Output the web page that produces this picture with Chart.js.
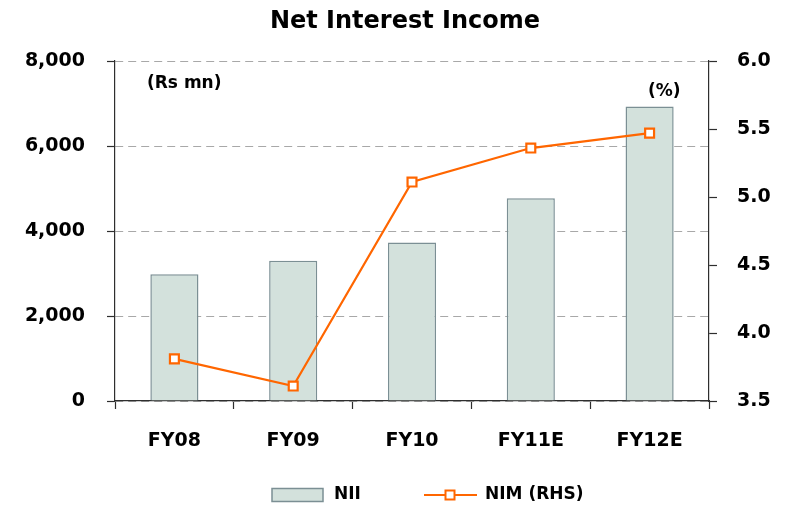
<!DOCTYPE html>
<html>
<head>
<meta charset="utf-8">
<script src="https://cdn.jsdelivr.net/npm/chart.js@4/dist/chart.umd.min.js"></script>
<style>
  html, body { margin: 0; padding: 0; background: #ffffff; }
  #wrap { width: 785px; height: 506px; position: relative; }
</style>
</head>
<body>
<div id="wrap"><canvas id="c" width="785" height="506"></canvas></div>
<script>
const categories = ["FY08", "FY09", "FY10", "FY11E", "FY12E"];
const niiValues = [2980, 3300, 3730, 4770, 6930];
const nimValues = [3.81, 3.61, 5.11, 5.36, 5.47];
const leftTicks = [0, 2000, 4000, 6000, 8000];
const rightTicks = [3.5, 4.0, 4.5, 5.0, 5.5, 6.0];
const titleText = "Net Interest Income";
const leftUnit = "(Rs mn)";
const rightUnit = "(%)";
const seriesNames = ["NII", "NIM (RHS)"];

const FONT = "'DejaVu Sans', sans-serif";
const barFill = "#d3e1dc";
const barEdge = "#7b8f94";
const lineColor = "#ff6600";
const axisColor = "#2e2e2e";
const gridColor = "#a8a8a8";

const decor = {
  id: "decor",
  afterDraw(chart) {
    const ctx = chart.ctx;
    ctx.save();
    ctx.fillStyle = "#000";
    ctx.textBaseline = "middle";
    // title
    ctx.font = "bold 24px " + FONT;
    ctx.textAlign = "center";
    ctx.fillText(titleText, 405, 22);
    // unit labels
    ctx.font = "bold 17px " + FONT;
    ctx.textAlign = "left";
    ctx.fillText(leftUnit, 147, 84);
    ctx.fillText(rightUnit, 648, 92);
    // legend
    const ly = 495;
    const ds0 = chart.data.datasets[0];
    const ds1 = chart.data.datasets[1];
    ctx.fillStyle = ds0.backgroundColor;
    ctx.fillRect(272, 488.5, 51, 13);
    ctx.strokeStyle = ds0.borderColor;
    ctx.lineWidth = 1.5;
    ctx.strokeRect(272, 488.5, 51, 13);
    ctx.fillStyle = "#000";
    ctx.font = "bold 17px " + FONT;
    ctx.fillText(ds0.label, 334, ly);
    ctx.strokeStyle = ds1.borderColor;
    ctx.lineWidth = 2;
    ctx.beginPath();
    ctx.moveTo(424, ly);
    ctx.lineTo(477, ly);
    ctx.stroke();
    ctx.fillStyle = "#fff";
    ctx.fillRect(445.5, ly - 4.5, 9, 9);
    ctx.strokeRect(445.5, ly - 4.5, 9, 9);
    ctx.fillStyle = "#000";
    ctx.fillText(ds1.label, 485, ly);
    ctx.restore();
  }
};

new Chart(document.getElementById("c"), {
  data: {
    labels: categories,
    datasets: [
      {
        type: "bar",
        label: seriesNames[0],
        data: niiValues,
        yAxisID: "y",
        backgroundColor: barFill,
        borderColor: barEdge,
        borderWidth: 1.5,
        barPercentage: 0.405,
        categoryPercentage: 1.0,
        order: 1
      },
      {
        type: "line",
        label: seriesNames[1],
        data: nimValues,
        yAxisID: "y1",
        borderColor: lineColor,
        borderWidth: 2.2,
        pointStyle: "rect",
        pointRadius: 6.3,
        pointBorderWidth: 2.2,
        pointBackgroundColor: "#ffffff",
        pointBorderColor: lineColor,
        tension: 0,
        order: 0
      }
    ]
  },
  options: {
    responsive: false,
    animation: false,
    devicePixelRatio: 1,
    layout: { padding: { top: 61, left: 0, right: 0, bottom: 0 } },
    plugins: {
      legend: { display: false },
      title: { display: false },
      tooltip: { enabled: false }
    },
    scales: {
      x: {
        offset: true,
        afterFit(s) { s.height = 105; },
        grid: {
          offset: true,
          drawOnChartArea: false,
          tickLength: 8,
          tickColor: axisColor,
          tickWidth: 1.2
        },
        border: { color: axisColor, width: 1.2 },
        ticks: {
          color: "#000",
          padding: 21,
          font: { family: FONT, weight: "bold", size: 19 },
          maxRotation: 0
        }
      },
      y: {
        position: "left",
        min: 0,
        max: 8000,
        afterFit(s) { s.width = 115; },
        afterBuildTicks(s) { s.ticks = leftTicks.map(v => ({ value: v })); },
        grid: {
          color: gridColor,
          lineWidth: 1,
          tickLength: 8,
          tickColor: axisColor,
          tickWidth: 1.2
        },
        border: { color: axisColor, width: 1.2, dash: [8, 5] },
        ticks: {
          color: "#000",
          padding: 22,
          font: { family: FONT, weight: "bold", size: 19 },
          callback: v => v.toLocaleString("en-US")
        }
      },
      y1: {
        position: "right",
        min: 3.5,
        max: 6.0,
        afterFit(s) { s.width = 76; },
        afterBuildTicks(s) { s.ticks = rightTicks.map(v => ({ value: v })); },
        grid: {
          drawOnChartArea: false,
          tickLength: 8,
          tickColor: axisColor,
          tickWidth: 1.2
        },
        border: { color: axisColor, width: 1.2 },
        ticks: {
          color: "#000",
          padding: 20,
          font: { family: FONT, weight: "bold", size: 19 },
          callback: v => Number(v).toFixed(1)
        }
      }
    }
  },
  plugins: [decor]
});
</script>
</body>
</html>
